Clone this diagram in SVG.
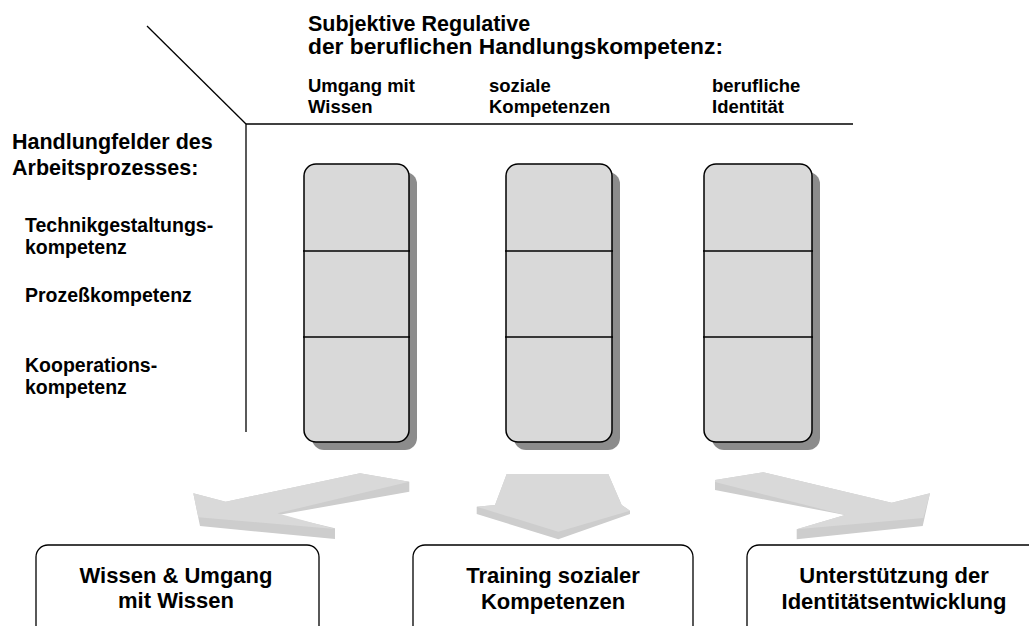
<svg xmlns="http://www.w3.org/2000/svg" width="1029" height="626" viewBox="0 0 1029 626">
<style>
text{font-family:"Liberation Sans",Arial,sans-serif;font-weight:bold;fill:#000}
.t{font-size:21.5px}
.h{font-size:18.5px}
.l{font-size:21.5px}
.i{font-size:19.5px}
.b{font-size:22px;text-anchor:middle}
.ax{stroke:#000;stroke-width:1.3;fill:none}
.sh{fill:#8c8c8c}
.col{fill:#d9d9d9;stroke:#000;stroke-width:1.5}
.div{stroke:#000;stroke-width:1.5}
.box{fill:#fff;stroke:#000;stroke-width:1.3}
.ad{fill:#cdcdcd}
.al{fill:#d9d9d9}
</style>
<rect width="1029" height="626" fill="#fff"/>
<g id="axes">
<line class="ax" x1="147" y1="26" x2="246" y2="124"/>
<line class="ax" x1="246" y1="124" x2="853" y2="124"/>
<line class="ax" x1="246" y1="124" x2="246" y2="432"/>
</g>
<g id="labels">
<text class="t" x="308" y="31">Subjektive Regulative</text>
<text class="t" x="308" y="54" textLength="415" lengthAdjust="spacingAndGlyphs">der beruflichen Handlungskompetenz:</text>
<text class="h" x="308" y="92">Umgang mit</text>
<text class="h" x="308" y="113">Wissen</text>
<text class="h" x="489" y="92">soziale</text>
<text class="h" x="489" y="113">Kompetenzen</text>
<text class="h" x="712" y="92">berufliche</text>
<text class="h" x="712" y="113">Identität</text>
<text class="l" x="12" y="149">Handlungfelder des</text>
<text class="l" x="12" y="175">Arbeitsprozesses:</text>
<text class="i" x="25" y="232">Technikgestaltungs-</text>
<text class="i" x="25" y="254">kompetenz</text>
<text class="i" x="25" y="302">Prozeßkompetenz</text>
<text class="i" x="25" y="372">Kooperations-</text>
<text class="i" x="25" y="394">kompetenz</text>
</g>
<g id="column1">
<rect class="sh" x="312" y="172" width="105" height="278" rx="12"/>
<rect class="col" x="304" y="164" width="105" height="278" rx="12"/>
<line class="div" x1="303" y1="251" x2="410" y2="251"/>
<line class="div" x1="303" y1="337" x2="410" y2="337"/>
</g>
<g id="column2">
<rect class="sh" x="514" y="172" width="106" height="278" rx="12"/>
<rect class="col" x="506" y="164" width="106" height="278" rx="12"/>
<line class="div" x1="505" y1="251" x2="613" y2="251"/>
<line class="div" x1="505" y1="337" x2="613" y2="337"/>
</g>
<g id="column3">
<rect class="sh" x="712" y="172" width="108" height="278" rx="12"/>
<rect class="col" x="704" y="164" width="108" height="278" rx="12"/>
<line class="div" x1="703" y1="251" x2="813" y2="251"/>
<line class="div" x1="703" y1="337" x2="813" y2="337"/>
</g>
<g id="connectors">
<polygon class="ad" points="360,473.3 409.3,481.7 409.3,491.7 278.3,515 335,528.3 335,539 200,526 193.3,493.3 225.7,501.7"/>
<polygon class="al" points="360,473.3 409.3,481.7 277.3,513.3 335,529 198.3,517.3 193.3,493.3 225.7,501.7"/>
<polygon class="ad" points="506.7,474 608.3,474 621.7,505 630,510.7 630,514 558.3,539.3 476.7,514 476.7,506.7 495,505"/>
<polygon class="al" points="506.7,474 608.3,474 621.7,505 630,510.7 558.3,531.7 476.7,506.7 495,505"/>
<polygon class="ad" points="715,480 763.3,472.3 891.7,502.7 930,493.3 922.7,526 796.7,539.3 796.7,529.3 845,515 715,490"/>
<polygon class="al" points="715,480 763.3,472.3 891.7,502.7 930,493.3 923.3,518 796.7,529.3 845,515 715,482"/>
</g>
<g id="box1">
<rect class="box" x="36" y="545" width="283" height="100" rx="12"/>
<text class="b" x="176" y="583">Wissen &amp; Umgang</text>
<text class="b" x="176" y="608">mit Wissen</text>
</g>
<g id="box2">
<rect class="box" x="413" y="545" width="280" height="100" rx="12"/>
<text class="b" x="553" y="583">Training sozialer</text>
<text class="b" x="553" y="609">Kompetenzen</text>
</g>
<g id="box3">
<rect class="box" x="747" y="545" width="300" height="100" rx="12"/>
<text class="b" x="894" y="583">Unterstützung der</text>
<text class="b" x="894" y="609">Identitätsentwicklung</text>
</g>
</svg>
